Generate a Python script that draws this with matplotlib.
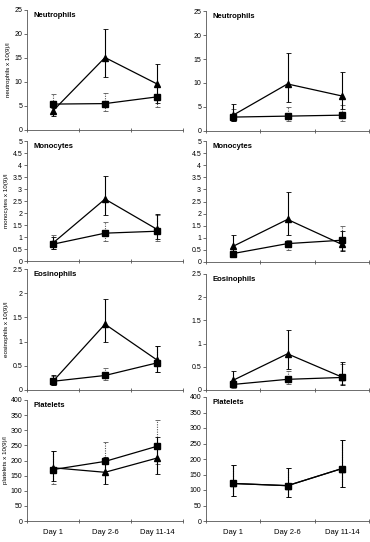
import matplotlib
matplotlib.use("Agg")
import matplotlib.pyplot as plt
import numpy as np

days = ["Day 1", "Day 2-6", "Day 11-14"]

# Left column (triangle = series A, square = series B)
neu_L_tri = [4.0, 15.1, 9.6]
neu_L_tri_lo = [3.0, 11.0, 5.6]
neu_L_tri_hi = [4.6, 21.0, 13.8]
neu_L_sq = [5.4, 5.5, 6.9]
neu_L_sq_lo = [3.6, 4.0, 4.8]
neu_L_sq_hi = [7.6, 7.8, 9.0]

mono_L_tri = [0.75, 2.58, 1.32]
mono_L_tri_lo = [0.52, 1.93, 0.90]
mono_L_tri_hi = [1.00, 3.53, 1.95]
mono_L_sq = [0.70, 1.16, 1.24]
mono_L_sq_lo = [0.50, 0.83, 0.85]
mono_L_sq_hi = [1.08, 1.62, 1.90]

eos_L_tri = [0.18, 1.36, 0.62]
eos_L_tri_lo = [0.10, 0.99, 0.38]
eos_L_tri_hi = [0.30, 1.87, 0.90]
eos_L_sq = [0.18, 0.30, 0.56]
eos_L_sq_lo = [0.10, 0.20, 0.38]
eos_L_sq_hi = [0.28, 0.45, 0.90]

plt_L_tri = [176, 161, 208]
plt_L_tri_lo = [133, 123, 157]
plt_L_tri_hi = [232, 212, 277]
plt_L_sq = [170, 197, 247]
plt_L_sq_lo = [122, 160, 190]
plt_L_sq_hi = [232, 262, 335]

# Right column
neu_R_tri = [3.3, 9.8, 7.3]
neu_R_tri_lo = [2.0, 6.1, 4.5]
neu_R_tri_hi = [5.6, 16.3, 12.3]
neu_R_sq = [2.9, 3.1, 3.3]
neu_R_sq_lo = [2.1, 2.0, 2.0]
neu_R_sq_hi = [4.6, 5.1, 5.5]

mono_R_tri = [0.65, 1.76, 0.73]
mono_R_tri_lo = [0.40, 1.10, 0.45]
mono_R_tri_hi = [1.10, 2.90, 1.30]
mono_R_sq = [0.35, 0.76, 0.90]
mono_R_sq_lo = [0.25, 0.50, 0.50]
mono_R_sq_hi = [0.45, 0.90, 1.50]

eos_R_tri = [0.21, 0.78, 0.28]
eos_R_tri_lo = [0.10, 0.45, 0.10]
eos_R_tri_hi = [0.42, 1.30, 0.60]
eos_R_sq = [0.12, 0.23, 0.27]
eos_R_sq_lo = [0.05, 0.12, 0.12]
eos_R_sq_hi = [0.20, 0.40, 0.56]

plt_R_tri = [121, 114, 169]
plt_R_tri_lo = [81, 78, 110]
plt_R_tri_hi = [180, 172, 260]
plt_R_sq = [121, 114, 169]
plt_R_sq_lo = [81, 78, 110]
plt_R_sq_hi = [180, 172, 260]

titles = ["Neutrophils", "Monocytes", "Eosinophils", "Platelets"]
ylabels = ["neutrophils x 10(9)/l", "monocytes x 10(9)/l", "eosinophils x 10(9)/l", "platelets x 10(9)/l"]
ymax = [25, 5, 2.5, 400]
ystep = [5, 0.5, 0.5, 50]

left_data = [
    (neu_L_tri, neu_L_tri_lo, neu_L_tri_hi, neu_L_sq, neu_L_sq_lo, neu_L_sq_hi),
    (mono_L_tri, mono_L_tri_lo, mono_L_tri_hi, mono_L_sq, mono_L_sq_lo, mono_L_sq_hi),
    (eos_L_tri, eos_L_tri_lo, eos_L_tri_hi, eos_L_sq, eos_L_sq_lo, eos_L_sq_hi),
    (plt_L_tri, plt_L_tri_lo, plt_L_tri_hi, plt_L_sq, plt_L_sq_lo, plt_L_sq_hi),
]
right_data = [
    (neu_R_tri, neu_R_tri_lo, neu_R_tri_hi, neu_R_sq, neu_R_sq_lo, neu_R_sq_hi),
    (mono_R_tri, mono_R_tri_lo, mono_R_tri_hi, mono_R_sq, mono_R_sq_lo, mono_R_sq_hi),
    (eos_R_tri, eos_R_tri_lo, eos_R_tri_hi, eos_R_sq, eos_R_sq_lo, eos_R_sq_hi),
    (plt_R_tri, plt_R_tri_lo, plt_R_tri_hi, plt_R_sq, plt_R_sq_lo, plt_R_sq_hi),
]

W, H = 370, 542
fig = plt.figure(figsize=(W / 100, H / 100), dpi=100)
plt.rcParams['font.family'] = ['Liberation Sans', 'DejaVu Sans']

left_rows = [(10, 130), (141, 261), (269, 390), (400, 521)]
right_rows = [(11, 131), (141, 262), (274, 390), (397, 521)]
cols = [(27, 183), (206, 369)]


def fmt(v):
    return "%g" % v


def draw(ax, data, i, show_ylabel):
    tri, tlo, thi, sq, slo, shi = data
    x = np.arange(len(days))
    tri = np.array(tri, float); sq = np.array(sq, float)
    terr = [tri - np.array(tlo), np.array(thi) - tri]
    serr = [sq - np.array(slo), np.array(shi) - sq]
    e1 = ax.errorbar(x, sq, yerr=serr, fmt='none', ecolor='#555555', elinewidth=0.8,
                     capsize=1.8, capthick=0.6, zorder=2)
    for lc in e1[2]:
        lc.set_linestyle((0, (1, 1.2)))
    ax.errorbar(x, tri, yerr=terr, fmt='none', ecolor='black', elinewidth=0.8,
                capsize=1.8, capthick=0.6, zorder=3)
    ax.plot(x, sq, color='black', lw=0.9, marker='s', ms=4.6, zorder=4)
    ax.plot(x, tri, color='black', lw=0.9, marker='^', ms=4.4, zorder=5)
    ax.set_xlim(-0.5, 2.5)
    ax.set_ylim(0, ymax[i])
    ticks = np.arange(0, ymax[i] + ystep[i] / 2, ystep[i])
    ax.set_yticks(ticks)
    ax.set_yticklabels([fmt(v) for v in ticks])
    ax.set_xticks([-0.5, 0.5, 1.5, 2.5])
    ax.set_xticklabels([])
    ax.set_xticks([0, 1, 2], minor=True)
    ax.tick_params(axis='x', which='minor', length=0)
    if i == 3:
        ax.set_xticklabels(days, minor=True)
    ax.tick_params(axis='x', which='major', direction='inout', length=3, width=0.6, color='#555555')
    ax.tick_params(axis='y', direction='out', length=2, width=0.6, color='#555555', labelsize=5, pad=1.5)
    ax.tick_params(axis='x', which='minor', labelsize=5.5, pad=6)
    for s in ['top', 'right']:
        ax.spines[s].set_visible(False)
    for s in ['left', 'bottom']:
        ax.spines[s].set_linewidth(0.6)
        ax.spines[s].set_color('#555555')
    ax.text(0.04, 0.955, titles[i], transform=ax.transAxes, fontsize=5.5, fontweight='bold',
            ha='left', va='center')
    if show_ylabel:
        ax.set_ylabel(ylabels[i], fontsize=4.5, labelpad=2)


for c, (rows, dataset) in enumerate([(left_rows, left_data), (right_rows, right_data)]):
    x0, x1 = cols[c]
    for i, (t, b) in enumerate(rows):
        ax = fig.add_axes([x0 / W, 1 - b / H, (x1 - x0) / W, (b - t) / H])
        draw(ax, dataset[i], i, c == 0)

fig.savefig("out.png", dpi=100)
